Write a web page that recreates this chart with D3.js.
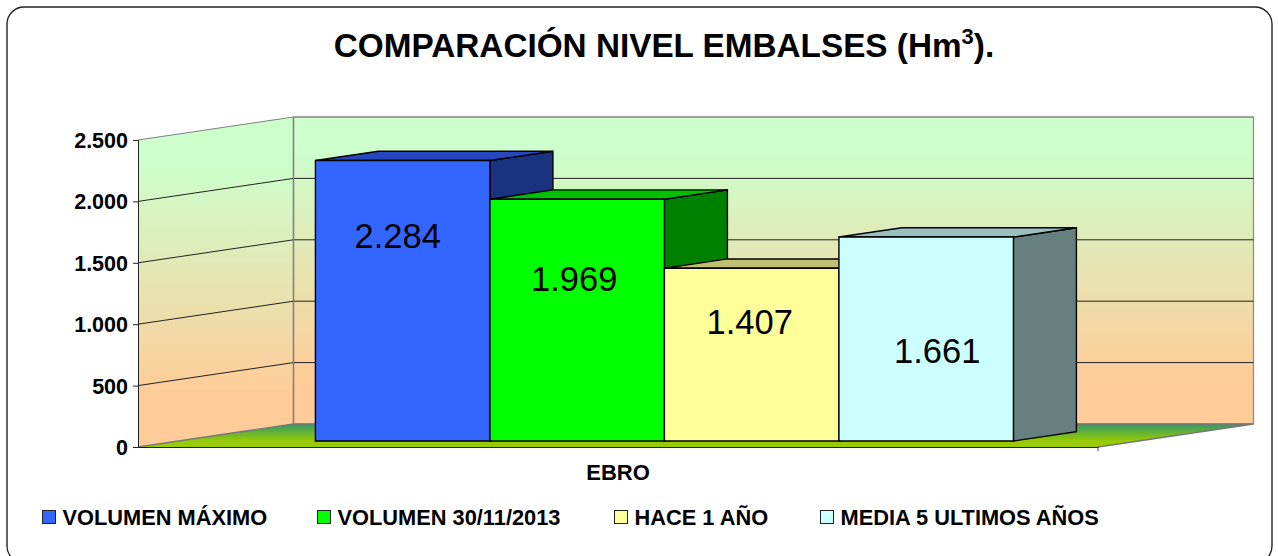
<!DOCTYPE html>
<html><head><meta charset="utf-8">
<script src="https://cdn.jsdelivr.net/npm/d3@7/dist/d3.min.js"></script>
<style>html,body{margin:0;padding:0;background:#fff}svg{display:block}text{font-family:"Liberation Sans",Arial,sans-serif;fill:#000}</style>
</head><body><svg id="c" width="1278" height="556"></svg>
<script>
const seriesNames = ["VOLUMEN MÁXIMO","VOLUMEN 30/11/2013","HACE 1 AÑO","MEDIA 5 ULTIMOS AÑOS"];
const seriesValues = [2284,1969,1407,1661];
const category = ["EBRO"];
const tickValues = [0,500,1000,1500,2000,2500];
const frontColors = ["#3366FF","#00FF00","#FFFF99","#CCFFFF"];
const topColors = ["#2647BF","#00BF00","#BFBF73","#99BFBF"];
const sideColors = ["#1A3380","#008000","#808050","#668080"];

const svg = d3.select("#c");
const y = d3.scaleLinear().domain([0,2500]).range([447,140]);
const x = d3.scaleBand().domain(seriesNames).range([275,973]);
const depthX = d3.scaleLinear().domain([0,1]).range([0,155.5]);
const depthY = d3.scaleLinear().domain([0,1]).range([0,-23]);
const floorX = d3.scaleLinear().domain([0,1]).range([138,1098]);
const P = (px,val,z)=>[px+depthX(z), y(val)+depthY(z)];
const poly = pts=>pts.map(p=>p.join(",")).join(" ");
const fmt = v=>d3.format(",")(v).replace(/,/g,".");

const defs = svg.append("defs");
function grad(id,stops,y1,y2){
  const g=defs.append("linearGradient").attr("id",id).attr("gradientUnits","userSpaceOnUse")
    .attr("x1",0).attr("x2",0).attr("y1",y1).attr("y2",y2);
  stops.forEach(s=>g.append("stop").attr("offset",s[0]).attr("stop-color",s[1]));
}
grad("wall",[[0,"#CCFFCC"],[0.1,"#CCFFCC"],[0.85,"#FFCC99"],[1,"#FFCC99"]],117,424);
grad("side",[[0,"#CCFFCC"],[0.1,"#CCFFCC"],[0.85,"#FFCC99"],[1,"#FFCC99"]],130,440);
grad("floor",[[0,"#339966"],[0.75,"#99CC00"],[1,"#99CC00"]],424,447);

// frame
svg.append("rect").attr("x",7).attr("y",7).attr("width",1265).attr("height",556).attr("rx",17)
  .attr("fill","#fff").attr("stroke","#222").attr("stroke-width",1.4);

// title
const title = svg.append("text").attr("x",664).attr("y",57).attr("text-anchor","middle")
  .attr("font-size",33.3).attr("font-weight","bold");
title.append("tspan").text("COMPARACIÓN NIVEL EMBALSES (Hm");
title.append("tspan").attr("font-size",22).attr("dy",-13).text("3");
title.append("tspan").attr("dy",13).text(").");

// walls
const [xL,xR]=floorX.range();
svg.append("polygon").attr("points",poly([P(xL,0,0),P(xL,2500,0),P(xL,2500,1),P(xL,0,1)]))
  .attr("fill","url(#side)");
svg.append("polygon").attr("points",poly([P(xL,0,1),P(xL,2500,1),P(xR,2500,1),P(xR,0,1)]))
  .attr("fill","url(#wall)").attr("stroke","#8a8a80").attr("stroke-width",1.2);
// grid
tickValues.slice(1).forEach(v=>{
  const c = v===2500?"#808080":"#222";
  svg.append("polyline").attr("fill","none").attr("stroke",c).attr("stroke-width",1)
    .attr("points",poly([P(xL,v,0),P(xL,v,1),P(xR,v,1)]));
});
// back corner line
svg.append("line").attr("stroke","#808080").attr("stroke-width",1.4)
  .attr("x1",P(xL,0,1)[0]).attr("x2",P(xL,0,1)[0]).attr("y1",P(xL,0,1)[1]).attr("y2",P(xL,2500,1)[1]);
// floor
svg.append("polygon").attr("points",poly([P(xL,0,0),P(xL,0,1),P(xR,0,1),P(xR,0,0)]))
  .attr("fill","url(#floor)");
svg.append("polyline").attr("fill","none").attr("stroke","#777").attr("stroke-width",1.4)
  .attr("points",poly([P(xL,0,0),P(xL,0,1),P(xR,0,1),P(xR,0,0)]));

// axes
const axisY = d3.axisLeft(y).tickValues(tickValues).tickFormat(fmt).tickSize(5).tickPadding(5);
const gy = svg.append("g").attr("transform",`translate(${xL},0)`).call(axisY);
gy.selectAll("text").attr("font-size",21.5).attr("font-weight","bold").attr("dy","0.35em");
gy.selectAll("path,line").attr("stroke","#222").attr("stroke-width",1);
const axisX = d3.axisBottom(d3.scaleBand().domain(category).range(floorX.range())).tickSize(0).tickPadding(17);
const gx = svg.append("g").attr("transform",`translate(0,${y(0)})`).call(axisX);
gx.selectAll("text").attr("font-size",22).attr("font-weight","bold").attr("dy","0.71em").attr("x",0);
gx.select("path").attr("stroke","#222").attr("stroke-width",1.2);
svg.append("line").attr("x1",xR).attr("x2",xR).attr("y1",y(0)).attr("y2",y(0)+4).attr("stroke","#444");

// bars
const zF=0.26,zB=0.665;
seriesNames.forEach((n,i)=>{
  const v=seriesValues[i],l=x(n),r=l+x.bandwidth();
  const g=svg.append("g").attr("stroke","#000").attr("stroke-width",1.4).attr("stroke-linejoin","miter");
  g.append("polygon").attr("fill",sideColors[i]).attr("points",poly([P(r,0,zF),P(r,v,zF),P(r,v,zB),P(r,0,zB)]));
  g.append("polygon").attr("fill",topColors[i]).attr("points",poly([P(l,v,zF),P(l,v,zB),P(r,v,zB),P(r,v,zF)]));
  g.append("polygon").attr("fill",frontColors[i]).attr("points",poly([P(l,0,zF),P(l,v,zF),P(r,v,zF),P(r,0,zF)]));
});
// data labels (manually placed in the original chart)
const labelDx=[-5,-3,-2,11];
const labelY=[248,291,334,363];
seriesNames.forEach((n,i)=>{
  const cx=x(n)+x.bandwidth()/2+depthX(zF);
  svg.append("text").attr("x",cx+labelDx[i]).attr("y",labelY[i]).attr("text-anchor","middle")
    .attr("font-size",34.5).text(fmt(seriesValues[i]));
});

// legend
const legendX=[42,317,614,820];
seriesNames.forEach((n,i)=>{
  svg.append("rect").attr("x",legendX[i]+.5).attr("y",510.5).attr("width",13).attr("height",13)
    .attr("fill",frontColors[i]).attr("stroke","#222").attr("stroke-width",1);
  svg.append("text").attr("x",legendX[i]+20.5).attr("y",524.5).attr("font-size",21.8).attr("font-weight","bold").text(n);
});
</script></body></html>
